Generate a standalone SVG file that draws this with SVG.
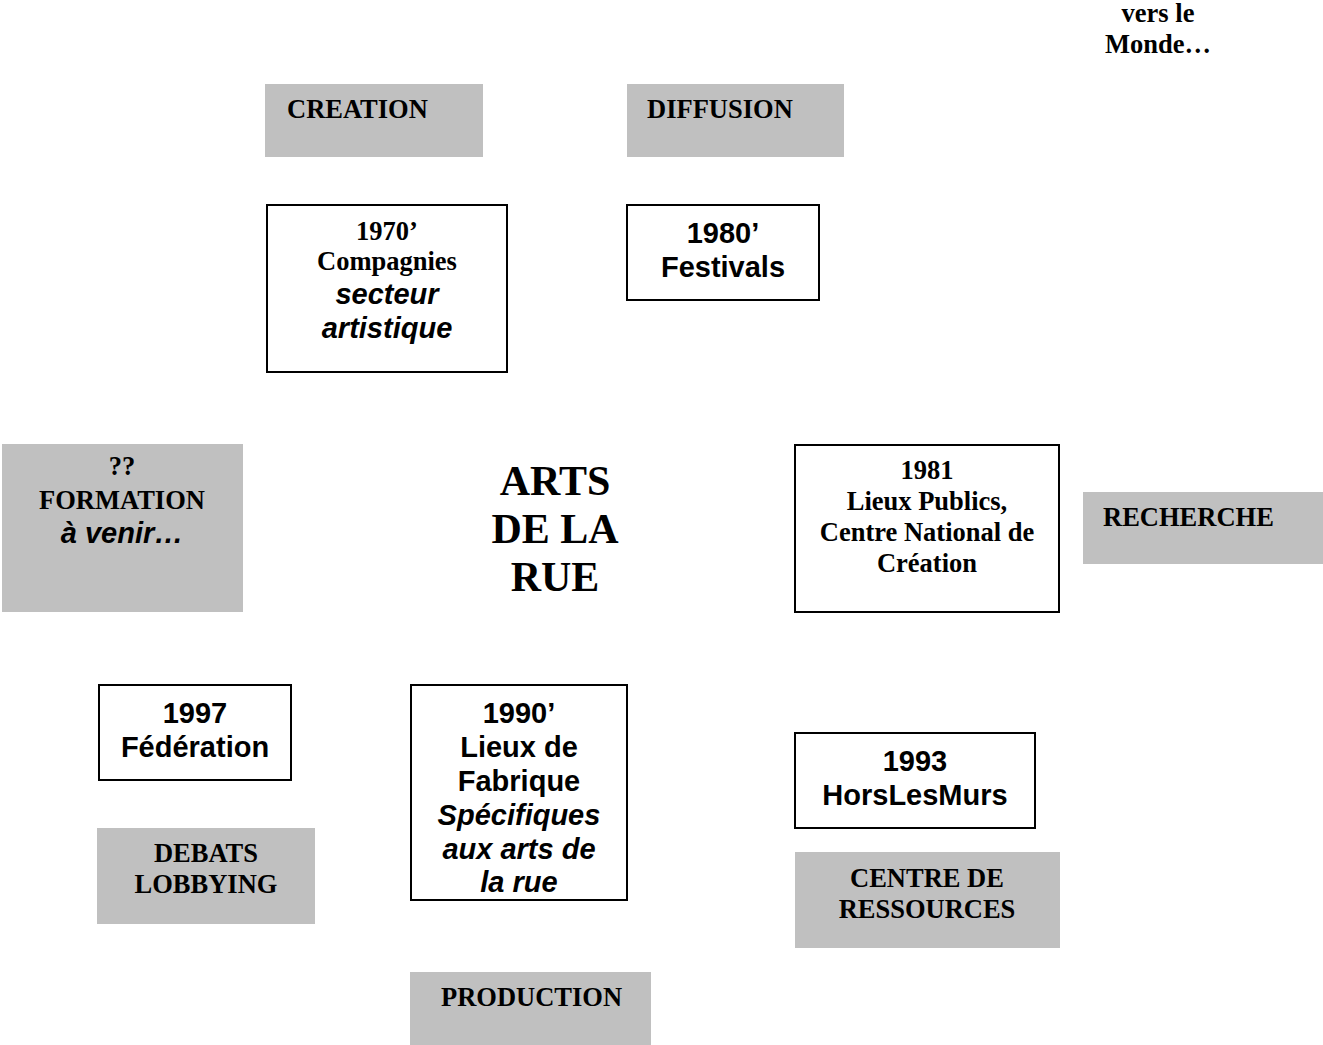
<svg xmlns="http://www.w3.org/2000/svg" width="1323" height="1045" viewBox="0 0 1323 1045">
<style>
.g{fill:#c0c0c0;stroke:none}
.b{fill:#fff;stroke:#000;stroke-width:2}
.s{font-family:"Liberation Serif","Times New Roman",serif;font-weight:bold;font-size:26.5px;fill:#000}
.a{font-family:"Liberation Sans",Arial,sans-serif;font-weight:bold;font-size:29px;fill:#000}
.i{font-style:italic}
.c{text-anchor:middle}
.big{font-size:42px}
</style>
<rect width="1323" height="1045" fill="#fff"/>
<g id="connectors"></g>
<g id="vers-le-monde"><text class="s c" x="1158" y="22">vers le</text><text class="s c" x="1158" y="53">Monde…</text></g>
<g id="creation"><rect class="g" x="265" y="84" width="218" height="73"/><text class="s" x="287" y="118">CREATION</text></g>
<g id="diffusion"><rect class="g" x="627" y="84" width="217" height="73"/><text class="s" x="647" y="118">DIFFUSION</text></g>
<g id="n1970"><rect class="b" x="267" y="205" width="240" height="167"/>
<text class="s c" x="387" y="240">1970’</text><text class="s c" x="387" y="270">Compagnies</text>
<text class="a i c" x="387" y="304">secteur</text><text class="a i c" x="387" y="338">artistique</text></g>
<g id="n1980"><rect class="b" x="627" y="205" width="192" height="95"/>
<text class="a c" x="723" y="243">1980’</text><text class="a c" x="723" y="277">Festivals</text></g>
<g id="formation"><rect class="g" x="2" y="444" width="241" height="168"/>
<text class="s c" x="122" y="475">??</text><text class="s c" x="122" y="509">FORMATION</text><text class="a i c" x="122" y="543">à venir…</text></g>
<g id="arts"><text class="s big c" x="555" y="495">ARTS</text><text class="s big c" x="555" y="543">DE LA</text><text class="s big c" x="555" y="591">RUE</text></g>
<g id="n1981"><rect class="b" x="795" y="445" width="264" height="167"/>
<text class="s c" x="927" y="479">1981</text><text class="s c" x="927" y="510">Lieux Publics,</text><text class="s c" x="927" y="541">Centre National de</text><text class="s c" x="927" y="572">Création</text></g>
<g id="recherche"><rect class="g" x="1083" y="492" width="240" height="72"/><text class="s" x="1103" y="526">RECHERCHE</text></g>
<g id="n1997"><rect class="b" x="99" y="685" width="192" height="95"/>
<text class="a c" x="195" y="723">1997</text><text class="a c" x="195" y="757">Fédération</text></g>
<g id="debats"><rect class="g" x="97" y="828" width="218" height="96"/>
<text class="s c" x="206" y="862">DEBATS</text><text class="s c" x="206" y="893">LOBBYING</text></g>
<g id="n1990"><rect class="b" x="411" y="685" width="216" height="215"/>
<text class="a c" x="519" y="723">1990’</text><text class="a c" x="519" y="757">Lieux de</text><text class="a c" x="519" y="791">Fabrique</text>
<text class="a i c" x="519" y="825">Spécifiques</text><text class="a i c" x="519" y="859">aux arts de</text><text class="a i c" x="519" y="892">la rue</text></g>
<g id="production"><rect class="g" x="410" y="972" width="241" height="73"/><text class="s" x="441" y="1006">PRODUCTION</text></g>
<g id="n1993"><rect class="b" x="795" y="733" width="240" height="95"/>
<text class="a c" x="915" y="771">1993</text><text class="a c" x="915" y="805">HorsLesMurs</text></g>
<g id="ressources"><rect class="g" x="795" y="852" width="265" height="96"/>
<text class="s c" x="927" y="887">CENTRE DE</text><text class="s c" x="927" y="918">RESSOURCES</text></g>
</svg>
